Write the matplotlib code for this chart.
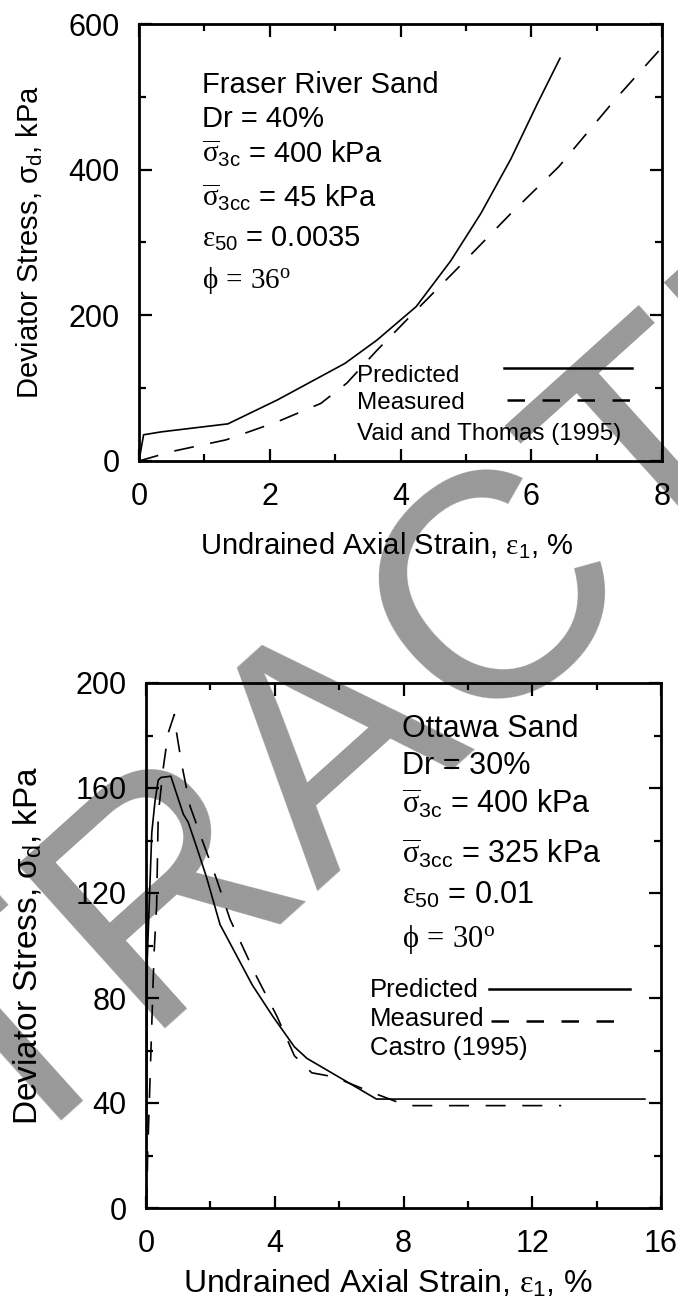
import matplotlib
matplotlib.use('Agg')
import matplotlib.pyplot as plt
from matplotlib.lines import Line2D
from matplotlib.ticker import MultipleLocator

plt.rcParams['font.family'] = ['Liberation Sans', 'DejaVu Sans']
plt.rcParams['mathtext.fontset'] = 'custom'
plt.rcParams['mathtext.rm'] = 'Liberation Serif'
plt.rcParams['mathtext.it'] = 'Liberation Serif'
plt.rcParams['mathtext.sf'] = 'Liberation Sans'

# Fraser River Sand (top panel)
fraser_pred_x = [0, 0.07, 0.34, 1.36, 2.12, 3.15, 3.64, 4.24, 4.77, 5.23, 5.69, 6.09, 6.44]
fraser_pred_y = [0, 36, 40, 51, 84, 134, 166, 212, 275, 340, 415, 490, 553]
fraser_meas_x = [0, 0.5, 1.33, 2.12, 2.78, 3.18, 3.64, 4.24, 4.9, 5.69, 6.42, 7.28, 8.0]
fraser_meas_y = [0, 13, 29, 54, 79, 107, 152, 207, 267, 340, 404, 496, 568]

# Ottawa Sand (bottom panel)
ottawa_pred_x = [0, 0.04, 0.18, 0.28, 0.38, 0.46, 0.77, 1.16, 1.31, 1.57, 1.88, 2.3,
                 3.3, 3.94, 4.61, 5.0, 7.16, 15.5]
ottawa_pred_y = [0, 95, 143, 155, 163, 164, 164.5, 150, 147, 137.6, 126, 108,
                 85, 73, 61.4, 57, 41.5, 41.5]
ottawa_meas_x = [0.02, 0.05, 0.25, 0.33, 0.38, 0.54, 0.69, 0.88, 0.95, 1.11, 1.37, 1.78,
                 2.2, 2.61, 3.4, 4.07, 4.61, 5.15, 5.82, 7.03, 8.1, 12.9]
ottawa_meas_y = [0, 20, 97, 115, 150, 168, 181, 188, 181, 169, 153, 139,
                 125, 110, 89, 73, 58, 51.5, 50, 44, 39, 39]

fraser_notes = ['Fraser River Sand', 'Dr = 40%',
                r'$\overline{\sigma}_{\mathsf{3c}}$ = 400 kPa',
                r'$\overline{\sigma}_{\mathsf{3cc}}$ = 45 kPa',
                r'$\varepsilon_{\mathsf{50}}$ = 0.0035',
                r'$\phi\,=\,36^{\mathrm{o}}$']
ottawa_notes = ['Ottawa Sand', 'Dr = 30%',
                r'$\overline{\sigma}_{\mathsf{3c}}$ = 400 kPa',
                r'$\overline{\sigma}_{\mathsf{3cc}}$ = 325 kPa',
                r'$\varepsilon_{\mathsf{50}}$ = 0.01',
                r'$\phi\,=\,30^{\mathrm{o}}$']

W, H = 678, 1305
ylab = 'Deviator Stress, σ$_{\\mathsf{d}}$, kPa'
xlab = r'Undrained Axial Strain, $\varepsilon_{\mathsf{1}}$, %'
dash = (0, (12, 10))


def fpos(x, y):
    return x / W, 1 - y / H


def style(ax, xmaj, xmin, ymaj, ymin):
    ax.set_facecolor('none')
    for s in ax.spines.values():
        s.set_linewidth(2)
    ax.xaxis.set_major_locator(MultipleLocator(xmaj))
    ax.xaxis.set_minor_locator(MultipleLocator(xmin))
    ax.yaxis.set_major_locator(MultipleLocator(ymaj))
    ax.yaxis.set_minor_locator(MultipleLocator(ymin))
    ax.tick_params(which='both', direction='in', top=True, right=True, width=1.6)
    ax.tick_params(which='major', length=9, labelsize=22)
    ax.tick_params(which='minor', length=5)
    ax.tick_params(axis='y', pad=14)
    ax.tick_params(axis='x', pad=15)


fig = plt.figure(figsize=(6.78, 13.05), dpi=100)

# watermark across the page, behind both panels
fig.text(*fpos(390, 801), 'RETRACTED', rotation=42, rotation_mode='anchor',
         ha='center', va='baseline', fontsize=230, color='#999999', zorder=-5)

# top panel
ax1 = fig.add_axes([139 / W, 1 - 461 / H, 523 / W, 437 / H])
ax1.plot(fraser_pred_x, fraser_pred_y, color='black', lw=1.2)
ax1.plot(fraser_meas_x, fraser_meas_y, color='black', lw=1.2, linestyle=dash)
ax1.set_xlim(0, 8)
ax1.set_ylim(0, 600)
style(ax1, 2, 1, 200, 100)
ax1.set_ylabel(ylab, fontsize=21, va='center')
ax1.yaxis.set_label_coords(-0.208, 0.5)
ax1.set_xlabel(xlab, fontsize=21, va='center')
ax1.xaxis.set_label_coords(0.474, -0.195)

for txt, yb in zip(fraser_notes, [93, 127, 163, 207, 247, 288]):
    fig.text(*fpos(202, yb), txt, fontsize=21, va='baseline')

for txt, yb in zip(['Predicted', 'Measured', 'Vaid and Thomas (1995)'], [382, 409, 440]):
    fig.text(*fpos(357, yb), txt, fontsize=17.5, va='baseline')
fig.add_artist(Line2D([504 / W, 632 / W], [1 - 368 / H] * 2, color='black', lw=1.8))
fig.add_artist(Line2D([507 / W, 630 / W], [1 - 400 / H] * 2, color='black', lw=1.8,
                      linestyle=(0, (7, 7))))

# bottom panel
ax2 = fig.add_axes([146 / W, 1 - 1208 / H, 515 / W, 525 / H])
ax2.plot(ottawa_pred_x, ottawa_pred_y, color='black', lw=1.2)
ax2.plot(ottawa_meas_x, ottawa_meas_y, color='black', lw=1.2, linestyle=dash)
ax2.set_xlim(0, 16)
ax2.set_ylim(0, 200)
style(ax2, 4, 2, 40, 20)
ax2.set_ylabel(ylab, fontsize=24, va='center')
ax2.yaxis.set_label_coords(-0.229, 0.5)
ax2.set_xlabel(xlab, fontsize=23, va='center')
ax2.xaxis.set_label_coords(0.47, -0.145)

for txt, yb in zip(ottawa_notes, [737, 774, 813, 863, 904, 947]):
    fig.text(*fpos(402, yb), txt, fontsize=22, va='baseline')

for txt, yb in zip(['Predicted', 'Measured', 'Castro (1995)'], [997, 1026, 1055]):
    fig.text(*fpos(370, yb), txt, fontsize=18.5, va='baseline')
fig.add_artist(Line2D([489 / W, 630 / W], [1 - 989 / H] * 2, color='black', lw=1.8))
fig.add_artist(Line2D([491 / W, 630 / W], [1 - 1021 / H] * 2, color='black', lw=1.8,
                      linestyle=(0, (7, 7))))

fig.savefig('out.png', dpi=100)
